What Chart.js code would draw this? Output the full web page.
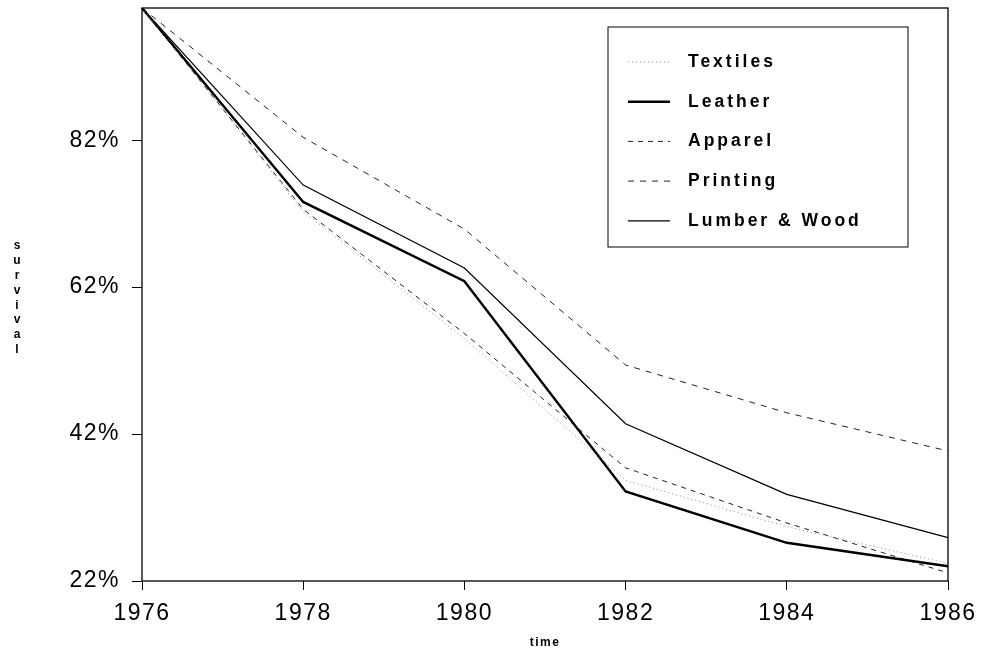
<!DOCTYPE html>
<html>
<head>
<meta charset="utf-8">
<script src="https://cdn.jsdelivr.net/npm/chart.js@4.4.1/dist/chart.umd.min.js"></script>
<style>
  html, body { margin: 0; padding: 0; background: #fff; }
  #wrap { width: 987px; height: 654px; position: relative; }
</style>
</head>
<body>
<div id="wrap"><canvas id="survivalChart"></canvas></div>
<script>
// years on the x axis
const years = ['1976', '1978', '1980', '1982', '1984', '1986'];
const yTicks = [22, 42, 62, 82];

// survival (%) per industry
const textiles = [100, 72.3, 55.0, 35.7, 29.4, 24.4];
const leather = [100, 73.6, 62.8, 34.2, 27.2, 24.0];
const apparel = [100, 72.6, 55.7, 37.4, 29.9, 23.1];
const printing = [100, 82.4, 69.9, 51.4, 44.9, 39.7];
const lumberWood = [100, 75.9, 64.6, 43.4, 33.8, 27.9];

const FONT = '"Liberation Sans", Arial, sans-serif';

// wide letter spacing like the original print
const spacingPlugin = {
  id: 'spacing',
  beforeLayout(chart) { chart.ctx.letterSpacing = '1.5px'; },
  beforeDraw(chart) { chart.ctx.letterSpacing = '1.5px'; }
};

// box round the plot, the framed legend and the stacked y title
const framePlugin = {
  id: 'frame',
  afterDatasetsDraw(chart) {
    const ctx = chart.ctx;
    const a = chart.chartArea;
    ctx.save();
    ctx.strokeStyle = '#000';
    ctx.lineWidth = 1.3;
    ctx.strokeRect(a.left, a.top, a.right - a.left, a.bottom - a.top);

    // legend box
    const lx = 608, ly = 27, lw = 300, lh = 220;
    ctx.fillStyle = '#fff';
    ctx.fillRect(lx, ly, lw, lh);
    ctx.lineWidth = 1;
    ctx.strokeRect(lx, ly, lw, lh);
    ctx.font = 'bold 17.5px ' + FONT;
    ctx.letterSpacing = '3px';
    ctx.textBaseline = 'middle';
    ctx.textAlign = 'left';
    chart.data.datasets.forEach((ds, i) => {
      const y = 62 + i * 39.7;
      ctx.beginPath();
      ctx.strokeStyle = ds.borderColor;
      ctx.lineWidth = ds.borderWidth;
      ctx.setLineDash(ds.borderDash || []);
      ctx.moveTo(628, y);
      ctx.lineTo(670, y);
      ctx.stroke();
      ctx.setLineDash([]);
      ctx.fillStyle = '#000';
      ctx.fillText(ds.label, 688, y);
    });

    // y axis title, letters stacked
    ctx.letterSpacing = '0px';
    ctx.font = 'bold 12px ' + FONT;
    ctx.textAlign = 'center';
    'survival'.split('').forEach((ch, i) => {
      ctx.fillText(ch, 17, 246 + i * 14.8);
    });
    ctx.restore();
  }
};

const chart = new Chart(document.getElementById('survivalChart'), {
  type: 'line',
  data: {
    labels: years,
    datasets: [
      { label: 'Textiles', data: textiles, borderColor: '#888', borderWidth: 1, borderDash: [1, 3] },
      { label: 'Leather', data: leather, borderColor: '#000', borderWidth: 2.4 },
      { label: 'Apparel', data: apparel, borderColor: '#222', borderWidth: 1, borderDash: [5, 5] },
      { label: 'Printing', data: printing, borderColor: '#222', borderWidth: 1, borderDash: [6, 6] },
      { label: 'Lumber & Wood', data: lumberWood, borderColor: '#000', borderWidth: 1.2 }
    ]
  },
  options: {
    responsive: true,
    maintainAspectRatio: false,
    animation: false,
    layout: { padding: { top: 8, right: 39, left: 0, bottom: 0 } },
    elements: { point: { radius: 0 }, line: { tension: 0 } },
    scales: {
      x: {
        offset: false,
        grid: { drawOnChartArea: false, drawTicks: true, tickLength: 9, color: '#000' },
        border: { display: false },
        ticks: { color: '#000', font: { family: FONT, size: 23 }, padding: 10, maxRotation: 0 },
        title: { display: true, text: 'time', color: '#000', font: { family: FONT, size: 12, weight: 'bold' }, padding: { top: 2 } },
        afterFit(scale) { scale.height = 73; scale.paddingLeft = 0; scale.paddingRight = 0; }
      },
      y: {
        min: 22,
        max: 100,
        afterBuildTicks(scale) { scale.ticks = yTicks.map(v => ({ value: v })); },
        grid: { drawOnChartArea: false, drawTicks: true, tickLength: 10, color: '#000' },
        border: { display: false },
        ticks: { color: '#000', font: { family: FONT, size: 23 }, padding: 12, callback: v => v + '%' },
        afterFit(scale) { scale.width = 142; scale.paddingTop = 0; scale.paddingBottom = 0; }
      }
    },
    plugins: {
      legend: { display: false },
      tooltip: { enabled: false }
    }
  },
  plugins: [spacingPlugin, framePlugin]
});
</script>
</body>
</html>
